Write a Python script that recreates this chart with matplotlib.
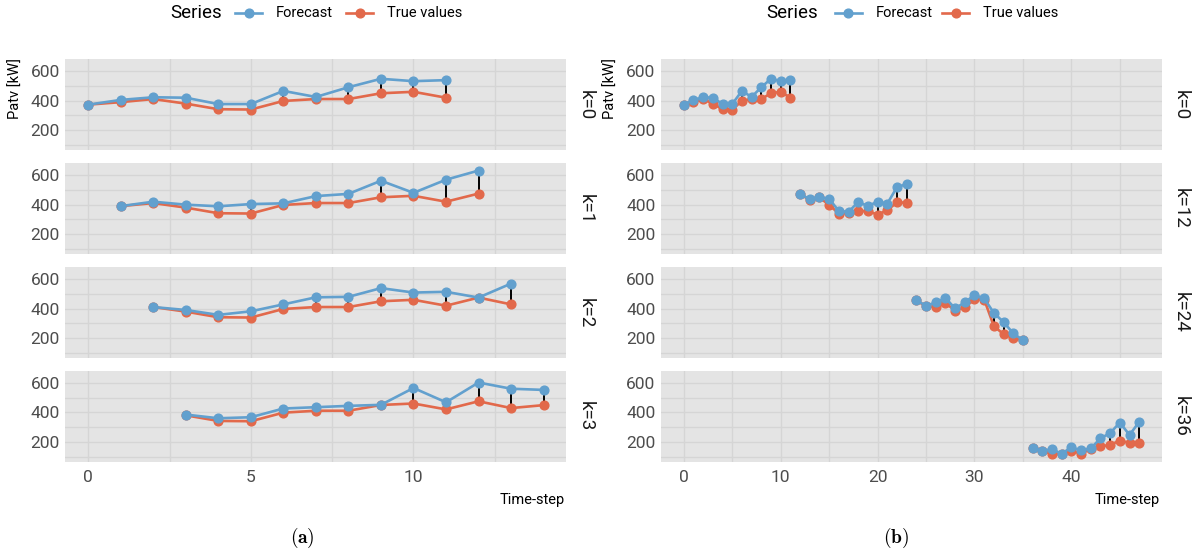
import numpy as np
import matplotlib.pyplot as plt
from matplotlib.lines import Line2D
from matplotlib.ticker import MultipleLocator, FixedLocator

plt.rcParams['font.family'] = ['Roboto', 'DejaVu Sans']
plt.rcParams['mathtext.fontset'] = 'cm'

# true Patv series, time-steps 0..47
true_values = [373, 390, 411, 380, 342, 340, 398, 411, 411, 450, 460, 420,
               475, 429, 449, 398, 340, 344, 358, 356, 333, 362, 416, 413,
               456, 416, 411, 438, 387, 409, 464, 462, 282, 227, 204, 187,
               162, 140, 118, 120, 140, 120, 151, 169, 180, 209, 193, 196]

# 12-step forecasts starting at time-step k
fc_k0 = [373, 405, 423, 420, 377, 377, 466, 425, 491, 548, 532, 539]
fc_k1 = [390, 420, 400, 389, 404, 409, 458, 473, 562, 480, 569, 631]
fc_k2 = [411, 391, 358, 382, 429, 477, 480, 539, 509, 514, 475, 570]
fc_k3 = [385, 360, 367, 426, 435, 444, 451, 565, 468, 602, 560, 552]
fc_k12 = [473, 436, 451, 438, 358, 351, 418, 391, 420, 407, 518, 540]
fc_k24 = [456, 420, 442, 471, 402, 442, 493, 469, 371, 309, 233, 187]
fc_k36 = [162, 140, 151, 120, 164, 142, 156, 224, 260, 331, 247, 336]

horizons_a = [0, 1, 2, 3]
forecasts_a = [fc_k0, fc_k1, fc_k2, fc_k3]
horizons_b = [0, 12, 24, 36]
forecasts_b = [fc_k0, fc_k12, fc_k24, fc_k36]

BLUE = '#62A0CE'
RED = '#E2694B'
BG = '#E4E4E4'
GRID = '#D5D5D5'
TICK = '#4D4D4D'
LW = 1.9
MS = 6.3

W, H = 1198, 557
fig = plt.figure(figsize=(W / 100, H / 100), dpi=100)

row_tops = [59.3, 163.3, 267.3, 371.0]
row_h = 91.0
panel_w = 501.0


def px_axes(x, top, w, h):
    return fig.add_axes([x / W, 1 - (top + h) / H, w / W, h / H])


def draw_panel(ax, k, forecast, xmax, major, minor, show_x):
    t = np.arange(k, k + len(forecast))
    tv = true_values[k:k + len(forecast)]
    ax.set_facecolor(BG)
    ax.vlines(t, tv, forecast, color='black', lw=1.4, zorder=2)
    ax.plot(t, tv, color=RED, lw=LW, marker='o', ms=MS, zorder=3)
    ax.plot(t, forecast, color=BLUE, lw=LW, marker='o', ms=MS, zorder=4)
    pad = 0.05 * xmax
    ax.set_xlim(-pad, xmax + pad)
    ax.set_ylim(64, 680)
    ax.xaxis.set_major_locator(MultipleLocator(major))
    ax.xaxis.set_minor_locator(MultipleLocator(minor))
    ax.yaxis.set_major_locator(FixedLocator([200, 400, 600]))
    ax.yaxis.set_minor_locator(MultipleLocator(100))
    ax.grid(which='both', color=GRID, lw=1.0, zorder=0)
    ax.set_axisbelow(True)
    for s in ax.spines.values():
        s.set_visible(False)
    ax.tick_params(which='both', length=0, labelsize=12.5, labelcolor=TICK)
    ax.tick_params(axis='y', pad=4)
    ax.tick_params(axis='x', pad=6)
    if not show_x:
        ax.set_xticklabels([])
    ax.text(1 + 19 / panel_w, 0.5, f'k={k}', rotation=270, transform=ax.transAxes,
            ha='center', va='center', fontsize=13.5, color='#1A1A1A')


def draw_legend(x_series, x_blue, x_red):
    y = 1 - 13 / H
    fig.text(x_series / W, y, 'Series', fontsize=13.5, ha='center', va='center')
    for x0, col, lab in [(x_blue, BLUE, 'Forecast'), (x_red, RED, 'True values')]:
        fig.add_artist(Line2D([x0 / W, (x0 + 27) / W], [y, y], color=col, lw=LW,
                              transform=fig.transFigure))
        fig.add_artist(Line2D([(x0 + 13.5) / W], [y], color=col, marker='o', ms=MS,
                              transform=fig.transFigure))
        fig.text((x0 + 41) / W, y, lab, fontsize=10.5, ha='left', va='center')


for col, (x0, horizons, forecasts, xmax, major, minor) in enumerate([
        (65.4, horizons_a, forecasts_a, 14, 5, 2.5),
        (661.0, horizons_b, forecasts_b, 47, 10, 5)]):
    for r, (k, fc) in enumerate(zip(horizons, forecasts)):
        ax = px_axes(x0, row_tops[r], panel_w, row_h)
        draw_panel(ax, k, fc, xmax, major, minor, show_x=(r == 3))
    fig.text((x0 + panel_w - 2) / W, 1 - 500 / H, 'Time-step', fontsize=10.5,
             ha='right', va='center')
    fig.text((x0 - 50) / W, 1 - 89 / H, 'Patv [kW]', fontsize=10.5, rotation=90,
             ha='center', va='center')

draw_legend(196, 235, 346)
draw_legend(792, 835, 942)

fig.text(302 / W, 1 - 538 / H, r'$\mathbf{(a)}$', fontsize=14,
         ha='center', va='center')
fig.text(896 / W, 1 - 538 / H, r'$\mathbf{(b)}$', fontsize=14,
         ha='center', va='center')

fig.savefig('out.png', dpi=100)
